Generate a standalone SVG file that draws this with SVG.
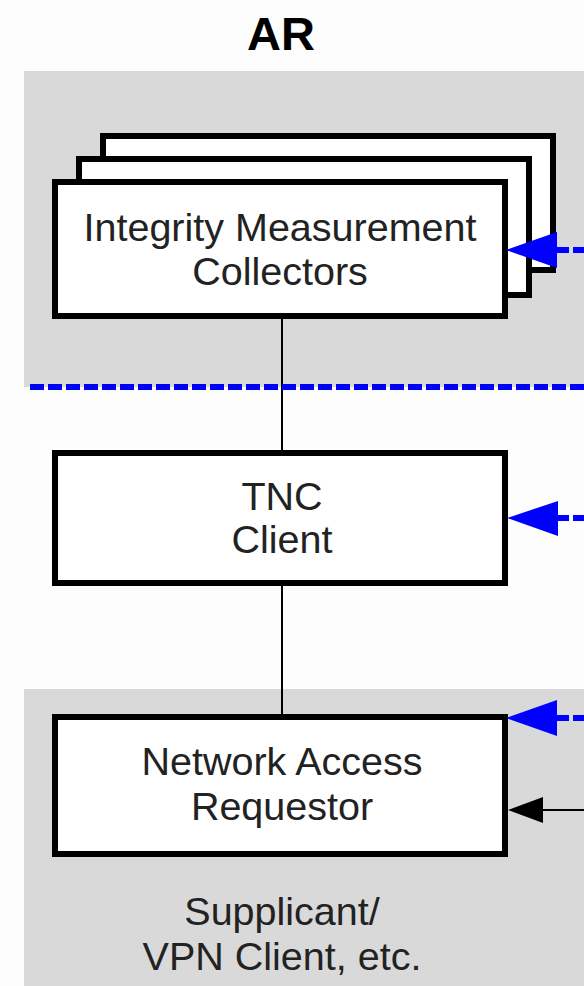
<svg xmlns="http://www.w3.org/2000/svg" width="584" height="986" viewBox="0 0 584 986">
<defs>
<style>
.box{fill:#fff;stroke:#000;stroke-width:6}
.lbl{font-family:"Liberation Sans",Arial,sans-serif;font-size:39.5px;fill:#222;text-anchor:middle}
.title{font-family:"Liberation Sans",Arial,sans-serif;font-size:47px;font-weight:bold;fill:#000;text-anchor:middle}
.band{fill:#d9d9d9}
.blue{stroke:#0000ff;stroke-width:6;stroke-dasharray:14 4;fill:none}
.thin{stroke:#000;stroke-width:2;fill:none}
.bhead{fill:#0000ff}
.khead{fill:#000}
</style>
</defs>
<rect width="584" height="986" fill="#fdfdfd"/>
<g id="bands">
<rect class="band" x="24" y="71" width="560" height="316"/>
<rect class="band" x="24" y="689" width="560" height="297"/>
</g>
<g id="title"><text class="title" x="281" y="50">AR</text></g>
<g id="imc">
<rect class="box" x="103" y="136" width="450" height="134"/>
<rect class="box" x="79" y="159" width="450" height="136"/>
<rect class="box" x="55" y="182" width="450" height="134"/>
<text class="lbl" x="280" y="241">Integrity Measurement</text>
<text class="lbl" x="280" y="285">Collectors</text>
</g>
<g id="tnc">
<rect class="box" x="55" y="453" width="450" height="130"/>
<text class="lbl" x="282" y="510">TNC</text>
<text class="lbl" x="282" y="553">Client</text>
</g>
<g id="nar">
<rect class="box" x="55" y="717" width="450" height="137"/>
<text class="lbl" x="282" y="775">Network Access</text>
<text class="lbl" x="282" y="820">Requestor</text>
</g>
<g id="note">
<text class="lbl" x="282" y="925">Supplicant/</text>
<text class="lbl" x="282" y="970">VPN Client, etc.</text>
</g>
<g id="connectors">
<line class="thin" x1="282" y1="319" x2="282" y2="450"/>
<line class="thin" x1="282" y1="586" x2="282" y2="714"/>
<line class="blue" x1="30" y1="387" x2="584" y2="387"/>
<line class="blue" x1="555" y1="250" x2="584" y2="250"/>
<polygon class="bhead" points="506,250 557,232 557,268"/>
<line class="blue" x1="555" y1="518" x2="584" y2="518"/>
<polygon class="bhead" points="507,518 558,501 558,536"/>
<line class="blue" x1="555" y1="718" x2="584" y2="718"/>
<polygon class="bhead" points="506,718 557,700 557,736"/>
<line class="thin" x1="540" y1="810" x2="584" y2="810"/>
<polygon class="khead" points="508,810 543,797 543,823"/>
</g>
</svg>
